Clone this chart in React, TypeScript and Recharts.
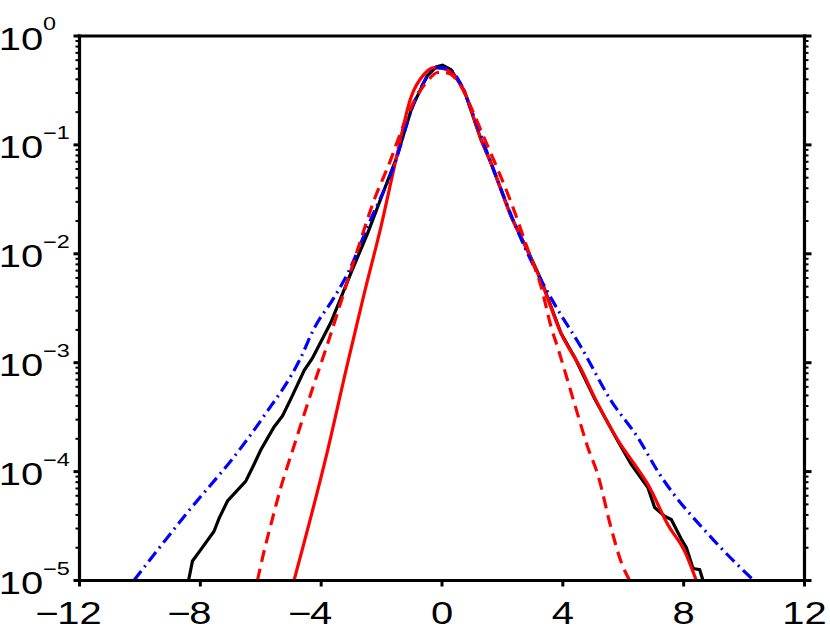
import { LineChart, Line, XAxis, YAxis } from "recharts";

// axis ticks
const xTicks = [-12, -8, -4, 0, 4, 8, 12];
const decades = [1e-5, 1e-4, 1e-3, 1e-2, 1e-1, 1];
const minorSteps = [2, 3, 4, 5, 6, 7, 8, 9];
const yTicks = [
  ...decades,
  ...decades.slice(0, -1).flatMap((d) => minorSteps.map((k) => d * k)),
].sort((a, b) => a - b);

// black solid: measured pdf
const observed: [number, number][] = [
  [-8.39, 1.0e-5], [-8.26, 1.51e-5], [-7.99, 1.91e-5], [-7.55, 2.82e-5],
  [-7.38, 3.72e-5], [-7.1, 5.37e-5], [-6.5, 8.13e-5], [-6.22, 1.17e-4],
  [-6.0, 1.58e-4], [-5.56, 2.57e-4], [-5.28, 3.24e-4], [-5.0, 4.68e-4],
  [-4.56, 8.51e-4], [-4.29, 1.1e-3], [-3.68, 2.34e-3], [-3.02, 6.61e-3],
  [-2.46, 1.55e-2], [-1.91, 3.89e-2], [-1.52, 7.41e-2], [-1.0, 0.219],
  [-0.5, 0.427], [-0.2, 0.519], [0.02, 0.54], [0.3, 0.49], [0.74, 0.313],
  [1.29, 0.112], [1.62, 0.0684], [2.29, 0.0219], [2.84, 0.0107],
  [3.28, 5.75e-3], [3.94, 1.86e-3], [4.39, 1.12e-3], [5.05, 4.68e-4],
  [5.82, 1.91e-4], [6.26, 1.17e-4], [6.82, 7.08e-5], [7.04, 4.68e-5],
  [7.37, 3.89e-5], [7.59, 3.63e-5], [7.92, 2.4e-5], [8.09, 2.0e-5],
  [8.31, 1.29e-5], [8.53, 1.26e-5], [8.64, 1.0e-5],
];

// blue dash-dot
const fitBlue: [number, number][] = [
  [-10.2, 1.0e-5], [-8.5, 3.98e-5], [-6.65, 1.66e-4], [-5.92, 3.16e-4],
  [-4.67, 1.12e-3], [-4.26, 2.0e-3], [-3.57, 3.98e-3], [-3.12, 6.61e-3],
  [-2.46, 1.78e-2], [-1.52, 7.33e-2], [-1.0, 0.214], [-0.5, 0.417],
  [-0.14, 0.513], [0.2, 0.501], [0.6, 0.372], [1.0, 0.2], [1.62, 0.0684],
  [2.84, 0.01], [3.72, 3.47e-3], [4.61, 1.38e-3], [5.6, 4.47e-4],
  [6.49, 2.04e-4], [7.15, 1.0e-4], [9.03, 2.29e-5], [10.32, 1.0e-5],
];

// red dashed
const modelDashed: [number, number][] = [
  [-6.11, 1.0e-5], [-5.89, 1.86e-5], [-5.61, 3.72e-5], [-5.34, 7.08e-5],
  [-4.95, 1.55e-4], [-4.23, 6.46e-4], [-3.79, 1.48e-3], [-3.24, 4.47e-3],
  [-2.79, 1.1e-2], [-2.24, 3.16e-2], [-1.69, 7.41e-2], [-1.52, 0.1],
  [-1.0, 0.229], [-0.5, 0.38], [-0.14, 0.462], [0.2, 0.457], [0.6, 0.355],
  [1.0, 0.209], [1.51, 0.0977], [1.73, 0.0708], [2.29, 0.0295],
  [2.84, 0.011], [3.28, 5.01e-3], [3.61, 2.14e-3], [3.84, 1.35e-3],
  [4.39, 4.17e-4], [4.83, 1.66e-4], [5.16, 9.33e-5], [5.6, 3.02e-5],
  [5.93, 1.48e-5], [6.21, 1.0e-5],
];

// red solid
const modelSolid: [number, number][] = [
  [-4.9, 1.0e-5], [-3.79, 1.55e-4], [-3.13, 9.77e-4], [-2.57, 4.37e-3],
  [-2.02, 1.78e-2], [-1.52, 7.41e-2], [-1.03, 0.272], [-0.59, 0.447],
  [-0.26, 0.513], [0.05, 0.501], [0.4, 0.437], [0.74, 0.309],
  [1.29, 0.112], [1.62, 0.0684], [2.29, 0.0219], [2.84, 0.0105],
  [3.28, 5.62e-3], [3.94, 1.86e-3], [4.61, 8.7e-4], [5.05, 4.8e-4],
  [5.82, 1.95e-4], [6.37, 1.17e-4], [6.82, 7.59e-5], [7.48, 3.24e-5],
  [8.03, 1.86e-5], [8.42, 1.0e-5],
];

const toRows = (pts: [number, number][]) => pts.map(([x, y]) => ({ x, y }));

const WIDTH = 830;
const HEIGHT = 627;
const PLOT_LEFT = 79.5;
const PLOT_RIGHT = 804.5;
const PLOT_BOTTOM = 580.5;

const FONT = "'Liberation Sans', Arial, Helvetica, sans-serif";
const LABEL_SIZE = 30.7;
const SUP_SIZE = 18;
const STRETCH = 1.3;

const isMajor = (v: number) =>
  Math.abs(Math.log10(v) - Math.round(Math.log10(v))) < 1e-6;

function LeftTick(props: any) {
  const { y, payload } = props;
  const v = payload.value;
  const major = isMajor(v);
  const exp = Math.round(Math.log10(v));
  return (
    <g>
      <line
        x1={PLOT_LEFT}
        x2={PLOT_LEFT - (major ? 6 : 4)}
        y1={y}
        y2={y}
        stroke="#000"
        strokeWidth={major ? 3 : 2}
      />
      {major && (
        <g
          transform={`translate(0,${y}) scale(${STRETCH},1)`}
          fontFamily={FONT}
          fill="#000"
        >
          <text x={-1} y={13.5} fontSize={LABEL_SIZE}>
            10
          </text>
          <text x={33.1} y={-6} fontSize={SUP_SIZE}>
            {exp === 0 ? "0" : `\u2212${-exp}`}
          </text>
        </g>
      )}
    </g>
  );
}

function RightTick(props: any) {
  const { y, payload } = props;
  const major = isMajor(payload.value);
  return (
    <line
      x1={PLOT_RIGHT}
      x2={PLOT_RIGHT + (major ? 7 : 4)}
      y1={y}
      y2={y}
      stroke="#000"
      strokeWidth={major ? 3 : 2}
    />
  );
}

function BottomTick(props: any) {
  const { x, payload } = props;
  const v = payload.value;
  const digits = String(Math.abs(v));
  const half = (digits.length * 0.556 * LABEL_SIZE) / 2;
  return (
    <g
      transform={`translate(${x},${PLOT_BOTTOM + 43.5}) scale(${STRETCH},1)`}
      fontFamily={FONT}
      fontSize={LABEL_SIZE}
      fill="#000"
    >
      <text textAnchor="middle">{digits}</text>
      {v < 0 && (
        <text x={-half + 1.3} textAnchor="end">
          {"\u2212"}
        </text>
      )}
    </g>
  );
}

const frame = { stroke: "#000", strokeWidth: 3.2, strokeLinecap: "square" as const };

export default function App() {
  return (
    <div style={{ position: "absolute", left: 0, top: 0, background: "#fff" }}>
      <LineChart
        width={WIDTH}
        height={HEIGHT}
        margin={{ top: 6, right: 5.5, bottom: 6.5, left: 0 }}
      >
        <XAxis
          dataKey="x"
          type="number"
          domain={[-12, 12]}
          ticks={xTicks}
          interval={0}
          height={40}
          axisLine={frame}
          tickLine={{ stroke: "#000", strokeWidth: 3 }}
          tickSize={6}
          tick={<BottomTick />}
        />
        <XAxis
          xAxisId="top"
          orientation="top"
          dataKey="x"
          type="number"
          domain={[-12, 12]}
          ticks={xTicks}
          interval={0}
          height={30}
          axisLine={frame}
          tickLine={{ stroke: "#000", strokeWidth: 3 }}
          tickSize={6}
          tick={false}
        />
        <YAxis
          type="number"
          scale="log"
          domain={[1e-5, 1]}
          allowDataOverflow
          ticks={yTicks}
          interval={0}
          width={PLOT_LEFT}
          axisLine={frame}
          tickLine={false}
          tick={<LeftTick />}
        />
        <YAxis
          yAxisId="right"
          orientation="right"
          type="number"
          scale="log"
          domain={[1e-5, 1]}
          allowDataOverflow
          ticks={yTicks}
          interval={0}
          width={20}
          axisLine={frame}
          tickLine={false}
          tick={<RightTick />}
        />
        <Line
          data={toRows(observed)}
          dataKey="y"
          type="linear"
          stroke="#000000"
          strokeWidth={3.2}
          dot={false}
          isAnimationActive={false}
        />
        <Line
          data={toRows(modelSolid)}
          dataKey="y"
          type="monotone"
          stroke="#ff0000"
          strokeWidth={3.2}
          dot={false}
          isAnimationActive={false}
        />
        <Line
          data={toRows(fitBlue)}
          dataKey="y"
          type="monotone"
          stroke="#0000ff"
          strokeWidth={3.2}
          strokeDasharray="12 5 2 5"
          dot={false}
          isAnimationActive={false}
        />
        <Line
          data={toRows(modelDashed)}
          dataKey="y"
          type="monotone"
          stroke="#ff0000"
          strokeWidth={3.2}
          strokeDasharray="12 7"
          dot={false}
          isAnimationActive={false}
        />
      </LineChart>
    </div>
  );
}
